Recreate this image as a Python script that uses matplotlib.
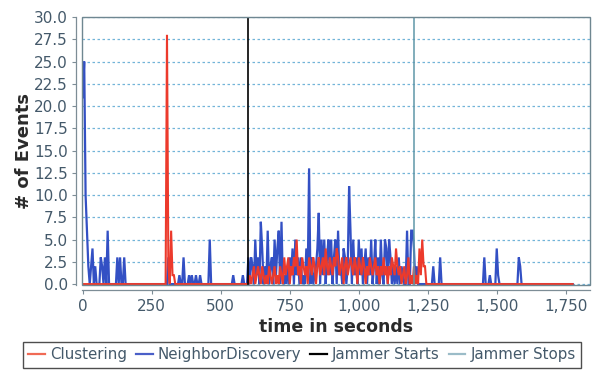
import numpy as np
import matplotlib
matplotlib.use("Agg")
import matplotlib.pyplot as plt
from matplotlib.lines import Line2D
from matplotlib.patches import Rectangle
from matplotlib.ticker import FuncFormatter

# ---- data (event counts sampled every 5 seconds, t = 0 .. 1775 s) ----
sample_step = 5

neighbor_discovery = [
    21, 25, 10, 6, 2, 0, 2, 4, 0, 2, 0, 0, 0, 3, 2, 0, 3, 0, 6, 0,          # 0-95
    0, 0, 0, 0, 0, 3, 0, 3, 0, 0, 3, 0, 0, 0, 0, 0, 0, 0, 0, 0,             # 100-195
    0, 0, 0, 0, 0, 0, 0, 0, 0, 0, 0, 0, 0, 0, 0, 0, 0, 0, 0, 0,             # 200-295
    0, 0, 3, 0, 0, 0, 0, 0, 0, 0, 1, 0, 0, 3, 0, 0, 0, 1, 0, 1,             # 300-395
    0, 0, 1, 0, 0, 1, 0, 0, 0, 0, 0, 0, 5, 0, 0, 0, 0, 0, 0, 0,             # 400-495
    0, 0, 0, 0, 0, 0, 0, 0, 0, 1, 0, 0, 0, 0, 0, 0, 1, 0, 0, 0,             # 500-595
    3, 0, 3, 2, 0, 5, 1, 3, 0, 7, 4, 0, 2, 0, 6, 0, 2, 3, 0, 5,             # 600-695
    1, 4, 6, 0, 7, 0, 1, 0, 2, 0, 3, 1, 4, 0, 5, 1, 3, 0, 3, 0,             # 700-795
    1, 0, 4, 1, 13, 0, 3, 0, 1, 2, 4, 8, 0, 5, 1, 5, 0, 3, 5, 1,            # 800-895
    5, 0, 3, 5, 0, 6, 1, 2, 0, 4, 3, 0, 2, 11, 6, 0, 5, 1, 3, 0,            # 900-995
    5, 1, 4, 0, 2, 4, 0, 3, 1, 5, 0, 2, 5, 0, 3, 0, 5, 1, 0, 5,             # 1000-1095
    4, 0, 5, 3, 0, 2, 0, 2, 0, 3, 0, 2, 1, 0, 0, 6, 0, 0, 6, 6,             # 1100-1195
    4, 0, 2, 0, 0, 0, 0, 0, 0, 0, 0, 0, 0, 0, 2, 0, 0, 0, 0, 3,             # 1200-1295
    0, 0, 0, 0, 0, 0, 0, 0, 0, 0, 0, 0, 0, 0, 0, 0, 0, 0, 0, 0,             # 1300-1395
    0, 0, 0, 0, 0, 0, 0, 0, 0, 0, 0, 3, 0, 0, 0, 1, 0, 0, 0, 0,             # 1400-1495
    4, 1, 0, 0, 0, 0, 0, 0, 0, 0, 0, 0, 0, 0, 0, 0, 3, 2, 0, 0,             # 1500-1595
    0, 0, 0, 0, 0, 0, 0, 0, 0, 0, 0, 0, 0, 0, 0, 0, 0, 0, 0, 0,             # 1600-1695
    0, 0, 0, 0, 0, 0, 0, 0, 0, 0, 0, 0, 0, 0, 0, 0,                         # 1700-1775
]

clustering = [
    0, 0, 0, 0, 0, 0, 0, 0, 0, 0, 0, 0, 0, 0, 0, 0, 0, 0, 0, 0,             # 0-95
    0, 0, 0, 0, 0, 0, 0, 0, 0, 0, 0, 0, 0, 0, 0, 0, 0, 0, 0, 0,             # 100-195
    0, 0, 0, 0, 0, 0, 0, 0, 0, 0, 0, 0, 0, 0, 0, 0, 0, 0, 0, 0,             # 200-295
    0, 28, 2, 0, 6, 1, 1, 0, 0, 0, 0, 0, 0, 0, 0, 0, 0, 0, 0, 0,            # 300-395
    0, 0, 0, 0, 0, 0, 0, 0, 0, 0, 0, 0, 0, 0, 0, 0, 0, 0, 0, 0,             # 400-495
    0, 0, 0, 0, 0, 0, 0, 0, 0, 0, 0, 0, 0, 0, 0, 0, 0, 0, 0, 0,             # 500-595
    0, 1, 0, 1, 2, 0, 1, 2, 1, 0, 2, 1, 0, 1, 0, 2, 1, 0, 1, 2,             # 600-695
    0, 1, 0, 2, 1, 0, 3, 1, 2, 3, 0, 2, 1, 3, 2, 5, 1, 2, 0, 3,             # 700-795
    2, 1, 2, 0, 3, 2, 1, 3, 2, 0, 2, 3, 1, 2, 3, 1, 4, 2, 1, 3,             # 800-895
    2, 1, 3, 2, 4, 3, 1, 2, 3, 0, 2, 3, 1, 2, 3, 2, 1, 3, 2, 0,             # 900-995
    3, 2, 1, 3, 2, 0, 2, 1, 3, 2, 1, 2, 3, 1, 2, 0, 2, 1, 3, 1,             # 1000-1095
    2, 0, 2, 1, 3, 2, 1, 4, 2, 1, 2, 0, 1, 2, 0, 1, 3, 0, 1, 0,             # 1100-1195
    2, 0, 1, 0, 4, 1, 5, 2, 2, 0, 0, 0, 0, 0, 0, 0, 0, 0, 0, 0,             # 1200-1295
    0, 0, 0, 0, 0, 0, 0, 0, 0, 0, 0, 0, 0, 0, 0, 0, 0, 0, 0, 0,             # 1300-1395
    0, 0, 0, 0, 0, 0, 0, 0, 0, 0, 0, 0, 0, 0, 0, 0, 0, 0, 0, 0,             # 1400-1495
    0, 0, 0, 0, 0, 0, 0, 0, 0, 0, 0, 0, 0, 0, 0, 0, 0, 0, 0, 0,             # 1500-1595
    0, 0, 0, 0, 0, 0, 0, 0, 0, 0, 0, 0, 0, 0, 0, 0, 0, 0, 0, 0,             # 1600-1695
    0, 0, 0, 0, 0, 0, 0, 0, 0, 0, 0, 0, 0, 0, 0, 0,                         # 1700-1775
]

jammer_start = 600
jammer_stop = 1200

series_names = ["Clustering", "NeighborDiscovery", "Jammer Starts", "Jammer Stops"]
y_ticks = [0, 2.5, 5, 7.5, 10, 12.5, 15, 17.5, 20, 22.5, 25, 27.5, 30]
x_ticks = [0, 250, 500, 750, 1000, 1250, 1500, 1750]

# ---- styling ----
RED = "#ec3a2c"
BLUE = "#3350c4"
STOP = "#5f97a8"
TXT = "#44596a"
GRID = "#72b4d8"

time_nd = np.arange(len(neighbor_discovery)) * sample_step
time_cl = np.arange(len(clustering)) * sample_step

fig = plt.figure(figsize=(5.92, 3.74), dpi=100)
ax = fig.add_axes([82 / 592, 1 - 284.8 / 374, (590 - 82) / 592, (284.8 - 17) / 374])

ax.plot(time_nd, neighbor_discovery, color=BLUE, lw=1.6, zorder=3, solid_joinstyle="miter")
ax.plot(time_cl, clustering, color=RED, lw=1.5, zorder=4, solid_joinstyle="miter")
ax.axvline(jammer_start, color="black", lw=1.2, zorder=5)
ax.axvline(jammer_stop, color=STOP, lw=1.1, zorder=5)

ax.set_xlim(-3, 1838)
ax.set_ylim(-0.08, 30)
ax.set_yticks(y_ticks)
ax.set_xticks(x_ticks)
ax.yaxis.set_major_formatter(FuncFormatter(lambda v, p: f"{v:.1f}"))
ax.xaxis.set_major_formatter(FuncFormatter(lambda v, p: f"{int(v):,}"))

ax.grid(axis="y", color=GRID, lw=0.9, linestyle=(0, (2, 2)), zorder=1)
ax.set_axisbelow(True)

for s in ["top", "right"]:
    ax.spines[s].set_visible(False)
for s in ["left", "bottom"]:
    ax.spines[s].set_position(("outward", 4))
    ax.spines[s].set_color("#7d8d96")
    ax.spines[s].set_linewidth(0.9)

outline = Rectangle((0, 0), 1, 1, transform=ax.transAxes, fill=False,
                    edgecolor="#6f8791", lw=1.0, zorder=6, clip_on=False)
ax.add_patch(outline)

ax.tick_params(axis="both", colors="#7d8d96", labelcolor=TXT, labelsize=11,
               length=3, width=0.8, direction="out", pad=3)

ax.set_xlabel("time in seconds", fontsize=12.5, fontweight="bold", color="#2a2a2a", labelpad=3)
ax.set_ylabel("# of Events", fontsize=13, fontweight="bold", color="#2a2a2a", labelpad=1)

handles = [
    Line2D([], [], color="#f06a55", lw=1.6),
    Line2D([], [], color="#4a5fc8", lw=1.6),
    Line2D([], [], color="black", lw=1.6),
    Line2D([], [], color="#9bbcc8", lw=1.6),
]
leg = fig.legend(handles, series_names, loc="center", bbox_to_anchor=(302 / 592, 1 - 355 / 374),
                 ncol=4, fontsize=10.8, frameon=True, fancybox=False, edgecolor="#222222",
                 handlelength=1.1, handletextpad=0.35, columnspacing=0.6,
                 borderpad=0.35, labelcolor=TXT)
leg.get_frame().set_linewidth(1.0)

fig.savefig("out.png", dpi=100)
